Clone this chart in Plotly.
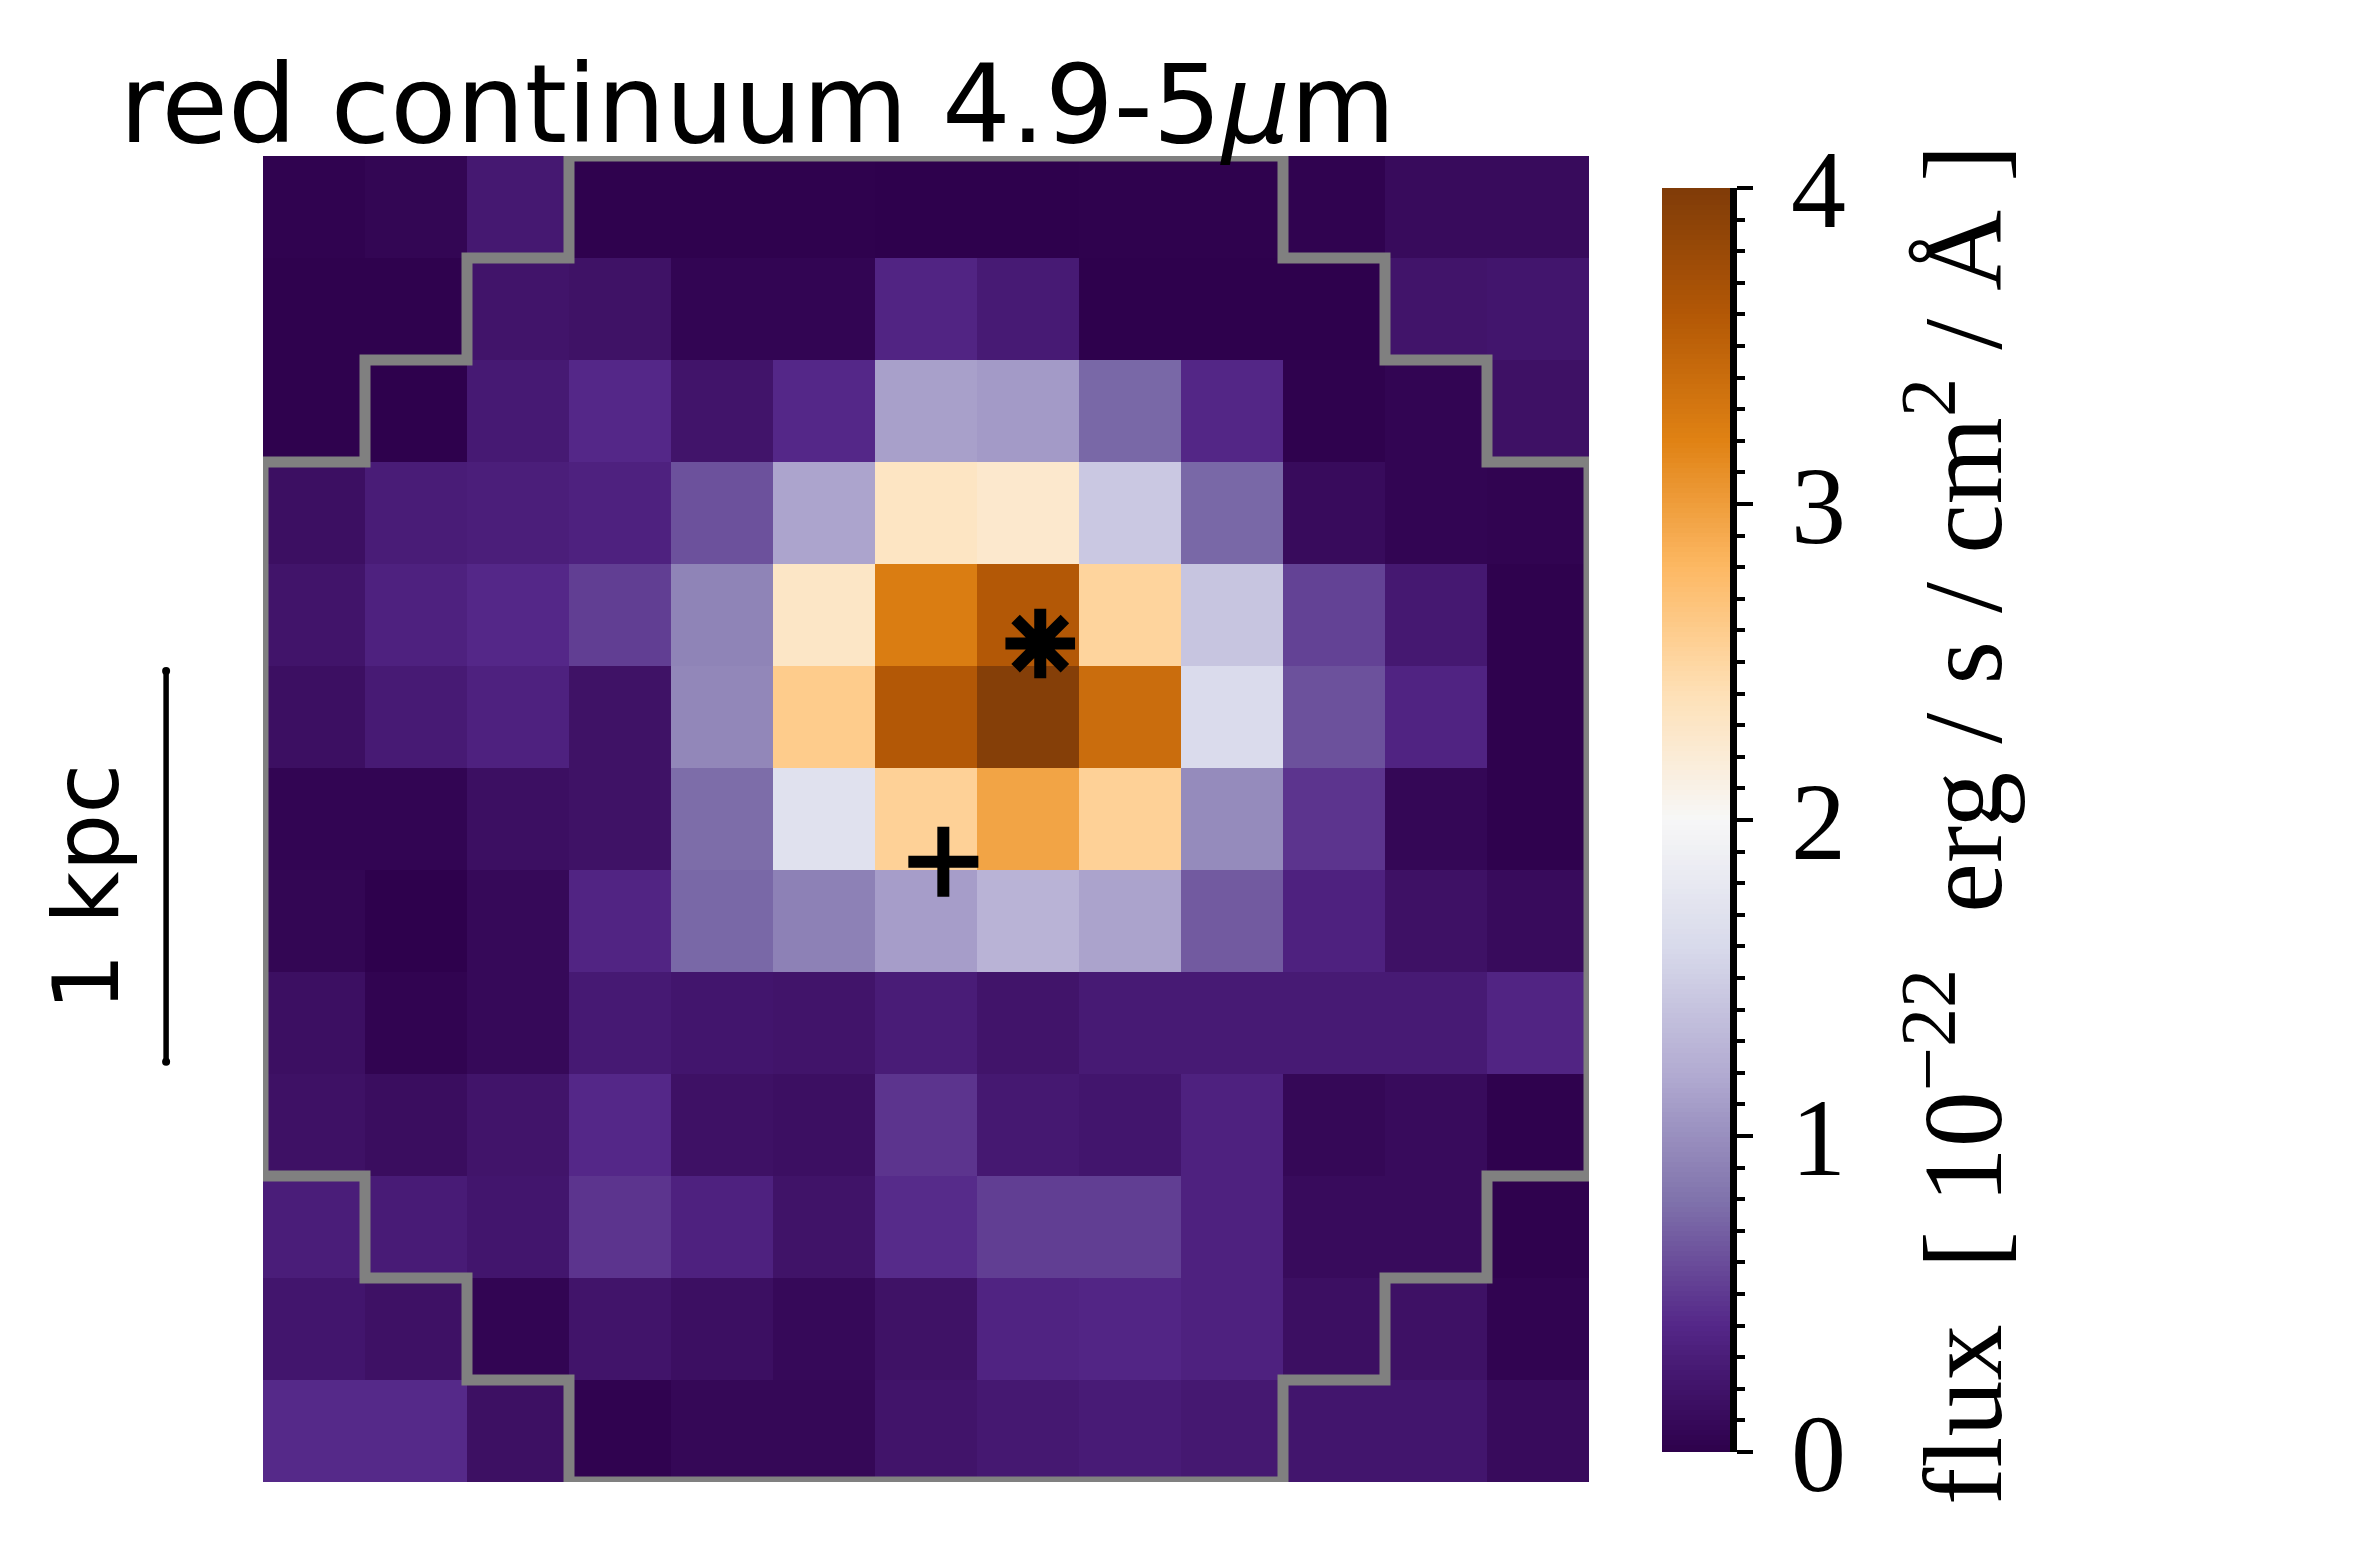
"""
Red continuum flux map, 4.9-5 micron
"""

import numpy as np
import plotly.graph_objects as go

FIG_W = 2374
FIG_H = 1562
PAGE_MARGIN = 8  # browser body margin in front of the plot div

# flux per spaxel, top row first, units of 1e-22 erg/s/cm2/A
flux = [
    [0.03, 0.06, 0.25, 0.02, 0.02, 0.02, 0.01, 0.01, 0.02, 0.02, 0.03, 0.11, 0.11],
    [0.02, 0.02, 0.20, 0.18, 0.05, 0.05, 0.37, 0.27, 0.01, 0.01, 0.01, 0.20, 0.22],
    [0.02, 0.01, 0.26, 0.40, 0.20, 0.40, 1.12, 1.08, 0.74, 0.39, 0.02, 0.05, 0.17],
    [0.15, 0.29, 0.31, 0.34, 0.62, 1.15, 2.32, 2.26, 1.45, 0.74, 0.11, 0.05, 0.04],
    [0.20, 0.34, 0.40, 0.52, 0.92, 2.30, 3.25, 3.60, 2.52, 1.42, 0.54, 0.25, 0.02],
    [0.15, 0.27, 0.34, 0.18, 0.94, 2.60, 3.60, 3.95, 3.40, 1.62, 0.62, 0.36, 0.02],
    [0.05, 0.05, 0.15, 0.18, 0.77, 1.70, 2.55, 2.95, 2.55, 0.97, 0.47, 0.07, 0.02],
    [0.06, 0.01, 0.09, 0.37, 0.74, 0.90, 1.10, 1.27, 1.14, 0.67, 0.34, 0.17, 0.11],
    [0.15, 0.04, 0.09, 0.26, 0.22, 0.20, 0.29, 0.20, 0.27, 0.27, 0.27, 0.27, 0.37],
    [0.17, 0.13, 0.20, 0.40, 0.17, 0.15, 0.47, 0.25, 0.22, 0.34, 0.08, 0.11, 0.02],
    [0.30, 0.28, 0.22, 0.47, 0.34, 0.19, 0.42, 0.52, 0.52, 0.34, 0.11, 0.11, 0.02],
    [0.22, 0.17, 0.05, 0.20, 0.15, 0.09, 0.18, 0.36, 0.38, 0.34, 0.15, 0.17, 0.04],
    [0.41, 0.41, 0.16, 0.03, 0.08, 0.08, 0.20, 0.25, 0.28, 0.25, 0.22, 0.22, 0.11],
]

# grey aperture outline, in spaxel edges
outline_x = [3, 10, 10, 11, 11, 12, 12, 13, 13, 12, 12, 11, 11, 10, 10, 3, 3, 2, 2, 1, 1, 0, 0, 1, 1, 2, 2, 3, 3]
outline_y = [0, 0, 1, 1, 2, 2, 3, 3, 10, 10, 11, 11, 12, 12, 13, 13, 12, 12, 11, 11, 10, 10, 3, 3, 2, 2, 1, 1, 0]

star_x = [7.62]
star_y = [4.78]
plus_x = [6.67]
plus_y = [6.92]

scalebar_x = [-0.95, -0.95]
scalebar_y = [5.05, 8.88]

cbar_ticks = [0, 1, 2, 3, 4]

# PuOr reversed
puor_r = [
    [0.0, "#2d004b"], [0.1, "#542788"], [0.2, "#8073ac"], [0.3, "#b2abd2"],
    [0.4, "#d8daeb"], [0.5, "#f7f7f7"], [0.6, "#fee0b6"], [0.7, "#fdb863"],
    [0.8, "#e08214"], [0.9, "#b35806"], [1.0, "#7f3b08"],
]


def px_x(px):
    return (px - PAGE_MARGIN) / FIG_W


def px_y(px):
    return 1 - (px - PAGE_MARGIN) / FIG_H


fig = go.Figure()

fig.add_trace(go.Heatmap(
    z=flux, x0=0.5, dx=1, y0=0.5, dy=1,
    zmin=0, zmax=4, colorscale=puor_r, showscale=False,
    xaxis="x", yaxis="y",
))

# outer edges get clipped to half width by the axes, as in the original
fig.add_trace(go.Scatter(
    x=outline_x, y=outline_y, mode="lines",
    line=dict(color="#808080", width=11),
    showlegend=False, xaxis="x", yaxis="y",
))

fig.add_trace(go.Scatter(
    x=star_x, y=star_y, mode="markers",
    marker=dict(symbol="asterisk-open", size=58, color="black",
                line=dict(color="black", width=12)),
    showlegend=False, xaxis="x", yaxis="y",
))

fig.add_trace(go.Scatter(
    x=plus_x, y=plus_y, mode="markers",
    marker=dict(symbol="cross-thin-open", size=50, color="black",
                line=dict(color="black", width=12)),
    showlegend=False, xaxis="x", yaxis="y",
))

# 1 kpc bar lives on a strip of axes left of the image, same spaxel scale
fig.add_trace(go.Scatter(
    x=scalebar_x, y=scalebar_y, mode="lines+markers",
    line=dict(color="black", width=5.5),
    marker=dict(color="black", size=8),
    showlegend=False, xaxis="x3", yaxis="y",
))

# colour bar drawn on its own axes so that it can have minor ticks
cbar_levels = np.linspace(0, 4, 256)
fig.add_trace(go.Heatmap(
    z=[[v] for v in cbar_levels], y=cbar_levels, x=[0],
    zmin=0, zmax=4, colorscale=puor_r, showscale=False,
    xaxis="x2", yaxis="y2",
))

fig.update_layout(
    template="none",
    width=FIG_W,
    height=FIG_H,
    autosize=False,
    margin=dict(l=0, r=0, t=0, b=0),
    paper_bgcolor="white",
    plot_bgcolor="white",
    showlegend=False,
    title=dict(
        text="red continuum 4.9-5<i>μ</i>m",
        font=dict(family="DejaVu Sans", size=108, color="black"),
        x=px_x(119.5), xref="paper", xanchor="left",
        y=px_y(142), yref="container", yanchor="bottom",
        automargin=False,
    ),
    xaxis=dict(domain=[px_x(263), px_x(1589)], range=[0, 13], visible=False, automargin=False),
    yaxis=dict(domain=[px_y(1482), px_y(156)], range=[13, 0], visible=False, automargin=False),
    xaxis3=dict(domain=[px_x(8), px_x(263)], range=[-2.5, 0], visible=False, anchor="y", automargin=False),
    xaxis2=dict(domain=[px_x(1662), px_x(1730)], visible=False, anchor="y2", automargin=False),
    yaxis2=dict(
        domain=[px_y(1452), px_y(188)], range=[0, 4], anchor="x2", side="right",
        automargin=False,
        tickmode="array", tickvals=cbar_ticks,
        ticks="outside", ticklen=16, tickwidth=4, tickcolor="black",
        showline=True, linecolor="black", linewidth=7,
        showgrid=False, zeroline=False,
        ticklabelstandoff=16,
        tickfont=dict(family="Liberation Serif", size=110, color="black"),
        minor=dict(dtick=0.1, tick0=0, ticks="outside", ticklen=8, tickwidth=4,
                   tickcolor="black", showgrid=False),
    ),
)

fig.add_annotation(
    text="1 kpc", textangle=-90, showarrow=False,
    xref="paper", yref="paper", x=px_x(86), y=px_y(888),
    xanchor="center", yanchor="middle",
    font=dict(family="DejaVu Sans", size=91, color="black"),
)

fig.add_annotation(
    text="flux  [ 10<sup>−22</sup>  erg / s / cm<sup>2</sup> / Å ]",
    textangle=-90, showarrow=False,
    xref="paper", yref="paper", x=px_x(1955), y=px_y(825),
    xanchor="center", yanchor="middle",
    font=dict(family="Liberation Serif", size=112, color="black"),
)

fig.write_html("out.html")
